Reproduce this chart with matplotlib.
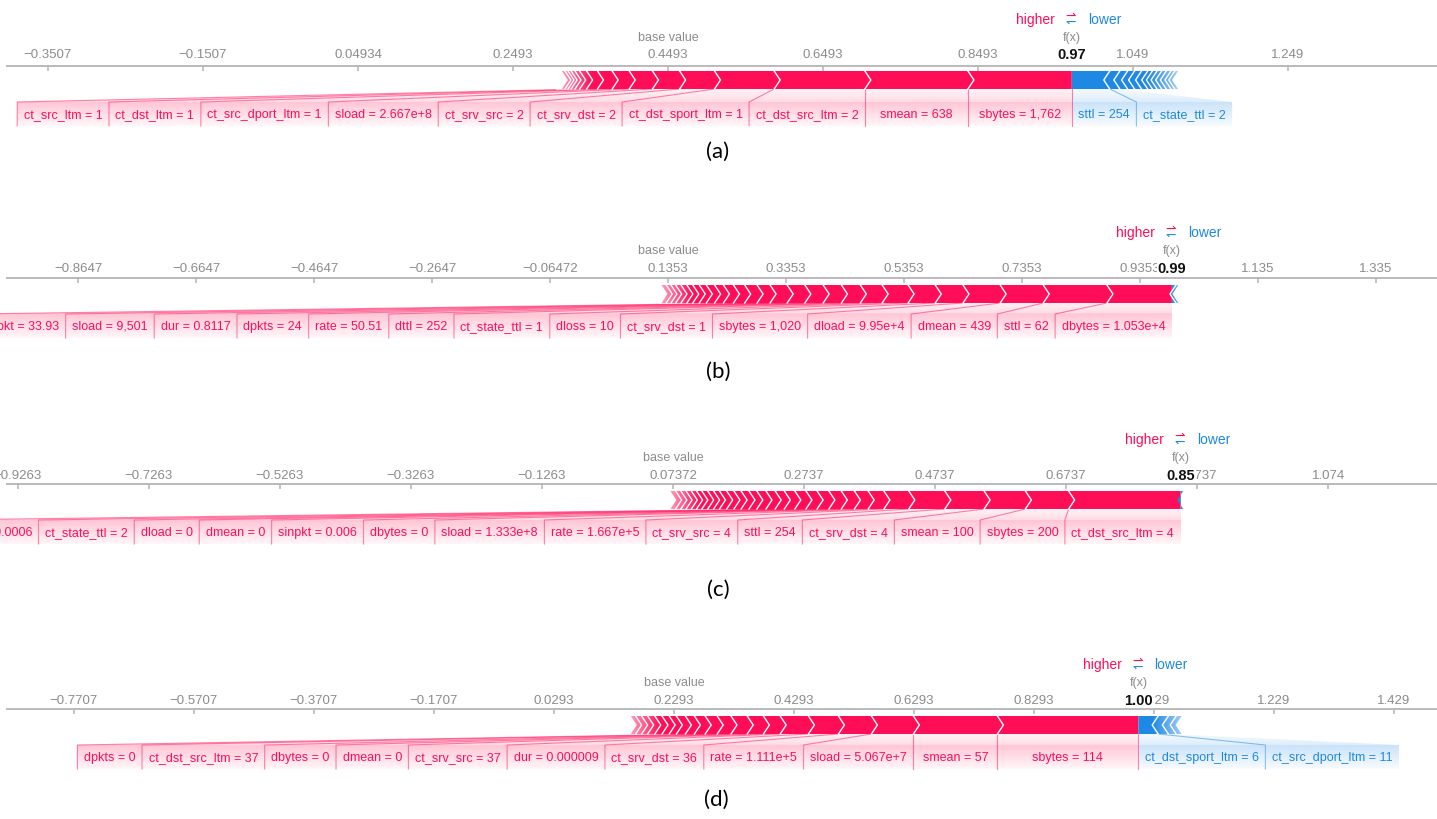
import numpy as np
import matplotlib
matplotlib.use("Agg")
import matplotlib.pyplot as plt
from matplotlib.patches import Polygon
from matplotlib.colors import to_rgb
from matplotlib import transforms

plt.rcParams["font.family"] = ["Liberation Sans", "DejaVu Sans"]

RED = "#ff0d57"
BLUE = "#1e88e5"
GRAY = "#8c8c8c"
W, H = 1437, 820

# ---- (a)
a_base = 0.44934
a_ticks = ["-0.3507", "-0.1507", "0.04934", "0.2493", "0.4493", "0.6493", "0.8493", "1.049", "1.249"]
a_red_labels = ["sbytes = 1,762", "smean = 638", "ct_dst_src_ltm = 2", "ct_dst_sport_ltm = 1",
                "ct_srv_dst = 2", "ct_srv_src = 2", "sload = 2.667e+8", "ct_src_dport_ltm = 1",
                "ct_dst_ltm = 1", "ct_src_ltm = 1"]
a_red_vals = [0.134, 0.133, 0.117, 0.077, 0.045, 0.035, 0.030, 0.022, 0.019, 0.014]
a_red_small = [0.009, 0.006, 0.005, 0.004, 0.004, 0.004]
a_blue_labels = ["sttl = 254", "ct_state_ttl = 2"]
a_blue_vals = [0.049, 0.013]
a_blue_small = [0.010, 0.009, 0.009, 0.008, 0.006, 0.006, 0.006, 0.006, 0.006, 0.005, 0.004]

# ---- (b)
b_base = 0.13528
b_ticks = ["-0.8647", "-0.6647", "-0.4647", "-0.2647", "-0.06472", "0.1353", "0.3353",
           "0.5353", "0.7353", "0.9353", "1.135", "1.335"]
b_red_labels = ["dbytes = 1.053e+4", "sttl = 62", "dmean = 439", "dload = 9.95e+4", "sbytes = 1,020",
                "ct_srv_dst = 1", "dloss = 10", "ct_state_ttl = 1", "dttl = 252", "rate = 50.51",
                "dpkts = 24", "dur = 0.8117", "sload = 9,501", "dinpkt = 33.93"]
b_red_vals = [0.110, 0.108, 0.073, 0.063, 0.047, 0.046, 0.044, 0.037, 0.032, 0.031,
              0.031, 0.030, 0.029, 0.022]
b_red_small = [0.021, 0.019, 0.017, 0.015, 0.014, 0.012, 0.011, 0.010, 0.010, 0.009, 0.008, 0.008, 0.008]
b_blue_labels = []
b_blue_vals = []
b_blue_small = [0.007, 0.004]

# ---- (c)
c_base = 0.07372
c_ticks = ["-0.9263", "-0.7263", "-0.5263", "-0.3263", "-0.1263", "0.07372", "0.2737",
           "0.4737", "0.6737", "0.8737", "1.074"]
c_red_labels = ["ct_dst_src_ltm = 4", "sbytes = 200", "smean = 100", "ct_srv_dst = 4", "sttl = 254",
                "ct_srv_src = 4", "rate = 1.667e+5", "sload = 1.333e+8", "dbytes = 0",
                "sinpkt = 0.006", "dmean = 0", "dload = 0", "ct_state_ttl = 2", "dinpkt = 0.0006"]
c_red_vals = [0.171, 0.066, 0.063, 0.060, 0.055, 0.038, 0.024, 0.021, 0.020,
              0.019, 0.018, 0.017, 0.017, 0.016]
c_red_small = [0.014, 0.014, 0.014, 0.012, 0.012, 0.011, 0.011, 0.011, 0.009,
               0.009, 0.009, 0.008, 0.008, 0.008, 0.008, 0.008, 0.008]
c_blue_labels = []
c_blue_vals = []
c_blue_small = [0.004]

# ---- (d)
d_base = 0.2293
d_ticks = ["-0.7707", "-0.5707", "-0.3707", "-0.1707", "0.0293", "0.2293", "0.4293",
           "0.6293", "0.8293", "1.029", "1.229", "1.429"]
d_red_labels = ["sbytes = 114", "smean = 57", "sload = 5.067e+7", "rate = 1.111e+5", "ct_srv_dst = 36",
                "dur = 0.000009", "ct_srv_src = 37", "dmean = 0", "dbytes = 0",
                "ct_dst_src_ltm = 37", "dpkts = 0"]
d_red_vals = [0.235, 0.140, 0.070, 0.055, 0.050, 0.047, 0.028, 0.027, 0.027, 0.023, 0.020]
d_red_small = [0.018, 0.015, 0.015, 0.012, 0.012, 0.012, 0.012, 0.010, 0.010, 0.008]
d_blue_labels = ["ct_dst_sport_ltm = 6", "ct_src_dport_ltm = 11"]
d_blue_vals = [0.033, 0.017]
d_blue_small = [0.013, 0.009]

# pixel layout of each screenshot strip
LAYOUT = {
    "a": dict(x0=668, scale=775, top=20, fxl=38, tick=55, axis=67, bar=(72, 90), lab=115, tag=152, tagx=718),
    "b": dict(x0=668, scale=590, top=233, fxl=251, tick=269, axis=279, bar=(286, 304), lab=327, tag=372, tagx=718),
    "c": dict(x0=673, scale=655, top=440, fxl=458, tick=476, axis=485, bar=(492, 510), lab=533, tag=590, tagx=718),
    "d": dict(x0=674, scale=600, top=665, fxl=683, tick=701, axis=710, bar=(717, 735), lab=758, tag=800, tagx=716),
}
LABEL_PAD = 13  # px of padding around each label text

fig = plt.figure(figsize=(W / 100, H / 100), dpi=100)
renderer = fig.canvas.get_renderer()


def text_px(ax, s, size):
    t = ax.text(0, 0, s, fontsize=size)
    w = t.get_window_extent(renderer).width
    t.remove()
    return w


def hfade(ax, x0, x1, y0, y1, a0, a1):
    img = np.ones((1, 64, 4))
    img[..., 3] = np.linspace(a0, a1, 64)
    ax.imshow(img, extent=(x0, x1, y1, y0), aspect="auto", zorder=4, interpolation="bilinear")


def label_fill(ax, pts, color, y0, ytop, y1):
    patch = Polygon(pts, closed=True, fc="none", ec="none")
    ax.add_patch(patch)
    n = int(y1 - y0)
    rows = y0 + np.arange(n) + 0.5
    alpha = np.where(rows < ytop,
                     0.05 + 0.10 * (rows - y0) / (ytop - y0),
                     0.24 * (1 - (rows - ytop) / (y1 - ytop)))
    img = np.zeros((n, 1, 4))
    img[..., :3] = to_rgb(color)
    img[..., 3] = alpha[:, None]
    xs = [p[0] for p in pts]
    im = ax.imshow(img, extent=(min(xs), max(xs), y1, y0), aspect="auto", zorder=1,
                   interpolation="bilinear")
    im.set_clip_path(patch)


def draw_panel(base, ticks, red_labels, red_vals, red_small, blue_labels, blue_vals, blue_small, L, tag):
    ax = fig.add_axes([0, 0, 1, 1])
    ax.patch.set_alpha(0)
    px = L["scale"]
    d = lambda p: p / px  # pixels -> data units
    red = list(red_vals) + list(red_small)
    blue = list(blue_vals) + list(blue_small)
    fx = base + sum(red) - sum(blue)
    bt, bb = L["bar"]
    mid = (bt + bb) / 2
    tip = d(6)
    lab_y = L["lab"]
    lt, lb = lab_y - 12, lab_y + 12

    # axis, ticks and tick labels
    ax.axhline(L["axis"], xmin=7 / W, xmax=1, color="#b4b4b4", lw=1.3, zorder=2)
    tv = [float(s) for s in ticks]
    ax.vlines(tv, L["axis"], L["axis"] + 5, color="#b4b4b4", lw=1.1, zorder=2)
    for v, s in zip(tv, ticks):
        ax.text(v, L["tick"], s.replace("-", "\u2212"), ha="center", va="center",
                fontsize=9.5, color=GRAY, zorder=3)

    # red segments stacked leftwards from f(x)
    r_edges = fx - np.concatenate([[0], np.cumsum(red)])
    for i in range(len(red)):
        r, l = r_edges[i], r_edges[i + 1]
        t_r = 0 if i == 0 else tip
        ax.add_patch(Polygon([(l, bt), (r, bt), (r + t_r, mid), (r, bb), (l, bb), (l + tip, mid)],
                             closed=True, fc=RED, ec="none", zorder=3))
        if i > 0:
            ax.plot([r, r + tip, r], [bt, mid, bb], color="white", lw=1.0, zorder=3.5)
    start = r_edges[-1]
    hfade(ax, start - tip, min(start + d(30), fx), bt - 0.5, bb + 0.5, 0.7, 0.0)

    # blue segments stacked rightwards from f(x)
    b_edges = fx + np.concatenate([[0], np.cumsum(blue)])
    for j in range(len(blue)):
        l, r = b_edges[j], b_edges[j + 1]
        t_l = 0 if j == 0 else tip
        ax.add_patch(Polygon([(l - t_l, mid), (l, bt), (r, bt), (r - tip, mid), (r, bb), (l, bb)],
                             closed=True, fc=BLUE, ec="none", zorder=3))
        if j > 0:
            ax.plot([l, l - tip, l], [bt, mid, bb], color="white", lw=1.0, zorder=3.5)
    if blue:
        end = b_edges[-1]
        hfade(ax, max(end - d(30), fx), end + tip, bt - 0.5, bb + 0.5, 0.0, 0.7)

    # red labels, pushed leftwards
    prev = np.inf
    for i, s in enumerate(red_labels):
        seg_r, seg_l = r_edges[i], r_edges[i + 1]
        w = d(text_px(ax, s, 9) + LABEL_PAD)
        box_r = min(seg_r, prev)
        box_l = min(seg_l, box_r - w)
        label_fill(ax, [(seg_l, bb), (seg_r, bb), (box_r, lt), (box_r, lb), (box_l, lb), (box_l, lt)],
                   RED, bb, lt, lb + 4)
        ax.plot([seg_l, box_l, box_l], [bb, lt, lb], color=RED, lw=0.8, alpha=0.5, zorder=2)
        ax.text((box_l + box_r) / 2, lab_y, s, ha="center", va="center", fontsize=9, color=RED, zorder=5)
        prev = box_l

    # blue labels, pushed rightwards
    prev = -np.inf
    for j, s in enumerate(blue_labels):
        seg_l, seg_r = b_edges[j], b_edges[j + 1]
        w = d(text_px(ax, s, 9) + LABEL_PAD)
        box_l = max(seg_l, prev)
        box_r = max(seg_r, box_l + w)
        label_fill(ax, [(seg_l, bb), (seg_r, bb), (box_r, lt), (box_r, lb), (box_l, lb), (box_l, lt)],
                   BLUE, bb, lt, lb + 4)
        lc = RED if j == 0 else BLUE
        ax.plot([seg_l, box_l, box_l], [bb, lt, lb], color=lc, lw=0.8, alpha=0.5, zorder=2)
        ax.text((box_l + box_r) / 2, lab_y, s, ha="center", va="center", fontsize=9, color=BLUE, zorder=5)
        prev = box_r

    # header texts
    ax.text(base, L["fxl"], "base value", ha="center", va="center", fontsize=9, color=GRAY)
    ax.text(fx, L["fxl"], "f(x)", ha="center", va="center", fontsize=9, color=GRAY)
    ax.text(fx, L["tick"], f"{fx:.2f}", ha="center", va="center", fontsize=10.5, fontweight="bold",
            color="#111111", zorder=6, bbox=dict(fc="white", ec="none", pad=0.6))
    ax.text(fx - d(17), L["top"], "higher", ha="right", va="center", fontsize=10, color=RED)
    ax.text(fx - d(1), L["top"] - 3, "\u21c0", ha="center", va="center", fontsize=9, color=RED)
    ax.text(fx - d(1), L["top"] + 3, "\u21bd", ha="center", va="center", fontsize=9, color=BLUE)
    ax.text(fx + d(16), L["top"], "lower", ha="left", va="center", fontsize=10, color=BLUE)

    trans = transforms.blended_transform_factory(ax.transAxes, ax.transData)
    ax.text(L["tagx"] / W, L["tag"], tag, transform=trans, ha="center", va="center",
            fontsize=16, color="black", family=["Lato", "DejaVu Sans"])

    ax.set_xlim(base - L["x0"] / px, base + (W - L["x0"]) / px)
    ax.set_ylim(H, 0)
    ax.axis("off")


draw_panel(a_base, a_ticks, a_red_labels, a_red_vals, a_red_small,
           a_blue_labels, a_blue_vals, a_blue_small, LAYOUT["a"], "(a)")
draw_panel(b_base, b_ticks, b_red_labels, b_red_vals, b_red_small,
           b_blue_labels, b_blue_vals, b_blue_small, LAYOUT["b"], "(b)")
draw_panel(c_base, c_ticks, c_red_labels, c_red_vals, c_red_small,
           c_blue_labels, c_blue_vals, c_blue_small, LAYOUT["c"], "(c)")
draw_panel(d_base, d_ticks, d_red_labels, d_red_vals, d_red_small,
           d_blue_labels, d_blue_vals, d_blue_small, LAYOUT["d"], "(d)")

fig.savefig("out.png", dpi=100, facecolor="white")
